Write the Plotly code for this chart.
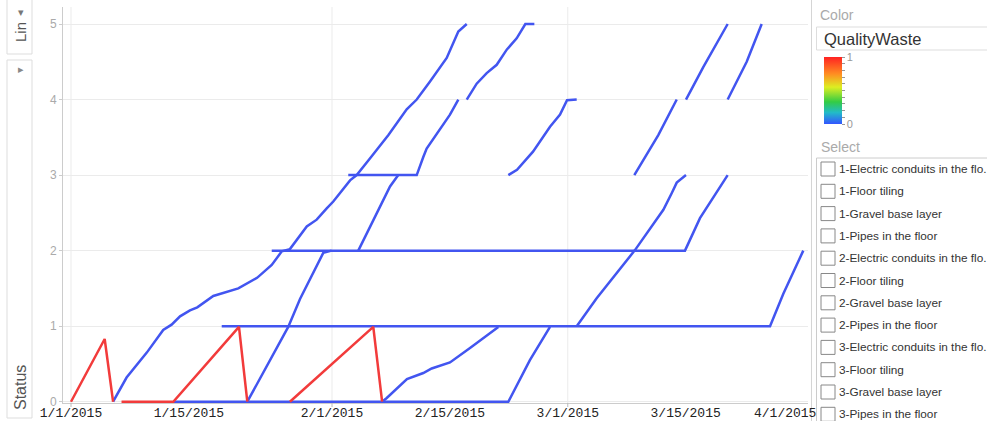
import plotly.graph_objects as go
import pandas as pd

START = pd.Timestamp("2015-01-01")

# ---- data: x = days since 1/1/2015, y = Status, waste = QualityWaste (0/1) ----
line1_days = [0, 4.0, 5.0, 6.6, 9.0, 10.95, 11.95, 12.95, 14.13, 15.0, 16.9, 18.5, 19.87, 22.1, 23.84,
              25.03, 26.0, 28.0, 29.18, 30.37, 31.15, 33.14, 33.93, 35.5, 37.7, 39.87, 41.06, 42.64,
              44.62, 46.0, 47.0]
line1_status = [0, 0.83, 0, 0.32, 0.65, 0.95, 1.02, 1.13, 1.21, 1.25, 1.40, 1.45, 1.50, 1.64, 1.81,
                1.99, 2.02, 2.32, 2.41, 2.56, 2.65, 2.93, 3.0, 3.22, 3.53, 3.87, 4.0, 4.24, 4.55, 4.90, 5.0]
line1_waste = [1, 1] + [0] * 29

line2_days = [6.0, 12.15, 19.95, 20.94, 25.8, 27.2, 28.18, 29.96, 30.95]
line2_status = [0, 0, 0.99, 0, 0.99, 1.36, 1.58, 1.97, 2.0]
line2_waste = [1, 1, 1, 0, 0, 0, 0, 0, 0]

line3_days = [12.15, 51.94, 54.5, 56.89]
line3_status = [0, 0, 0.55, 0.99]
line3_waste = [0, 0, 0, 0]

line4_days = [26.0, 35.9, 36.95, 37.5, 39.9, 41.84, 42.84, 45.01, 47.39, 50.75]
line4_status = [0, 0.99, 0, 0.05, 0.30, 0.38, 0.44, 0.52, 0.71, 0.99]
line4_waste = [1, 1, 0, 0, 0, 0, 0, 0, 0, 0]

line5_days = [17.9, 83.02, 84.6, 86.97]
line5_status = [1, 1, 1.43, 2.0]
line5_waste = [0, 0, 0, 0]

line6_days = [23.84, 72.92, 74.7, 76.48, 77.99]
line6_status = [2, 2, 2.43, 2.74, 3.0]
line6_waste = [0, 0, 0, 0, 0]

line7_days = [32.93, 41.06, 41.84, 42.24, 45.01, 46.0]
line7_status = [3, 3, 3.24, 3.35, 3.80, 4.0]
line7_waste = [0, 0, 0, 0, 0, 0]

line8_days = [34.12, 37.89, 38.87]
line8_status = [2.0, 2.85, 3.0]
line8_waste = [0, 0, 0]

line9_days = [47.0, 48.18, 49.37, 50.56, 51.75, 52.93, 53.96, 55.03]
line9_status = [4.0, 4.21, 4.35, 4.46, 4.66, 4.81, 5.0, 5.0]
line9_waste = [0] * 8

line10_days = [51.94, 52.97, 54.87, 56.89, 58.08, 58.91, 60.06]
line10_status = [3.0, 3.07, 3.31, 3.64, 3.80, 3.99, 4.0]
line10_waste = [0] * 7

line11_days = [60.06, 61.64, 62.43, 67.0, 68.37, 70.35, 71.34, 71.94, 73.04]
line11_status = [1.0, 1.25, 1.37, 2.01, 2.23, 2.54, 2.76, 2.90, 3.0]
line11_waste = [0] * 9

line12_days = [66.9, 69.75, 71.94]
line12_status = [3.0, 3.53, 4.0]
line12_waste = [0, 0, 0]

line13_days = [73.04, 75.09, 77.99]
line13_status = [4.0, 4.43, 5.0]
line13_waste = [0, 0, 0]

line14_days = [77.99, 80.25, 82.03]
line14_status = [4.0, 4.5, 5.0]
line14_waste = [0, 0, 0]

lines = [
    (line1_days, line1_status, line1_waste), (line2_days, line2_status, line2_waste),
    (line3_days, line3_status, line3_waste), (line4_days, line4_status, line4_waste),
    (line5_days, line5_status, line5_waste), (line6_days, line6_status, line6_waste),
    (line7_days, line7_status, line7_waste), (line8_days, line8_status, line8_waste),
    (line9_days, line9_status, line9_waste), (line10_days, line10_status, line10_waste),
    (line11_days, line11_status, line11_waste), (line12_days, line12_status, line12_waste),
    (line13_days, line13_status, line13_waste), (line14_days, line14_status, line14_waste),
]

x_tick_dates = ["2015-01-01", "2015-01-15", "2015-02-01", "2015-02-15", "2015-03-01", "2015-03-15"]
x_tick_text = ["1/1/2015", "1/15/2015", "2/1/2015", "2/15/2015", "3/1/2015", "3/15/2015"]
month_grid_dates = ["2015-01-01", "2015-02-01", "2015-03-01"]
x_range_days = [-0.95, 87.53]
y_ticks = [0, 1, 2, 3, 4, 5]

select_items = ["1-Electric conduits in the flo.", "1-Floor tiling", "1-Gravel base layer",
                "1-Pipes in the floor", "2-Electric conduits in the flo.", "2-Floor tiling",
                "2-Gravel base layer", "2-Pipes in the floor", "3-Electric conduits in the flo.",
                "3-Floor tiling", "3-Gravel base layer", "3-Pipes in the floor"]

BLUE = "#4255F0"
RED = "#F23B3B"
colorscale = [[0, "#3355FF"], [0.17, "#22BBC8"], [0.33, "#33CC44"], [0.55, "#DDEE22"],
              [0.75, "#FF8C22"], [1, "#FF2222"]]


def to_dates(days):
    return START + pd.to_timedelta(days, unit="D")


# ---- layout geometry (pixels) ----
W, H = 987, 421
PL, PR, PT, PB = 63, 808, 7, 403


def px_x(px):
    return (px - PL) / (PR - PL)


def px_y(py):
    return (PB - py) / (PB - PT)


fig = go.Figure()

runs = {0: [], 1: []}
for days, status, waste in lines:
    n = len(days)
    start = 0
    for i in range(1, n):
        if i == n - 1 or waste[i] != waste[start]:
            runs[waste[start]].append((days[start:i + 1], status[start:i + 1]))
            start = i

for w in (0, 1):
    for d, s in runs[w]:
        fig.add_trace(go.Scatter(
            x=to_dates(d), y=s, mode="lines",
            line=dict(color=RED if w else BLUE, width=2.5),
            showlegend=False, hoverinfo="x+y"))

# colour scale legend
fig.add_trace(go.Scatter(
    x=[None], y=[None], mode="markers", showlegend=False, hoverinfo="skip",
    marker=dict(color=[0, 1], cmin=0, cmax=1, colorscale=colorscale, showscale=True,
                colorbar=dict(x=px_x(824), xanchor="left", xpad=0, ypad=0,
                              y=px_y(90.5), yanchor="middle", lenmode="pixels", len=67,
                              thickness=18, outlinewidth=0,
                              tickvals=[i / 10 for i in range(11)],
                              ticktext=["0"] + [""] * 9 + ["1"],
                              ticks="outside", ticklen=3, tickcolor="#999",
                              tickfont=dict(family="Liberation Sans", size=11, color="#999")))))

shapes = []
annotations = []

# monthly vertical gridlines + tick marks
for d in month_grid_dates:
    shapes.append(dict(type="line", xref="x", yref="paper", x0=d, x1=d, y0=0, y1=1,
                       line=dict(color="#EBEBEB", width=1), layer="below"))
    shapes.append(dict(type="line", xref="x", yref="paper", x0=d, x1=d, y0=0, y1=px_y(PB + 4),
                       line=dict(color="#BBBBBB", width=1)))

# last date label shifted in
annotations.append(dict(text="4/1/2015", x=px_x(818), y=px_y(414), xanchor="right",
                        font=dict(family="Liberation Mono", size=13, color="#222")))

# left axis selector controls
shapes.append(dict(type="rect", xref="paper", yref="paper", x0=px_x(7), x1=px_x(32),
                   y0=px_y(-5), y1=px_y(54), line=dict(color="#DDDDDD", width=1), fillcolor="white"))
shapes.append(dict(type="rect", xref="paper", yref="paper", x0=px_x(7), x1=px_x(32),
                   y0=px_y(60), y1=px_y(418), line=dict(color="#DDDDDD", width=1), fillcolor="white"))
annotations += [
    dict(text="Lin", x=px_x(20), y=px_y(32), textangle=-90, font=dict(size=15, color="#555")),
    dict(text="▾", x=px_x(20.5), y=px_y(12), font=dict(size=11, color="#777")),
    dict(text="▸", x=px_x(20.5), y=px_y(69), font=dict(size=11, color="#888")),
    dict(text="Status", x=px_x(20), y=px_y(388), textangle=-90, font=dict(size=16, color="#555")),
]

# right panel
shapes.append(dict(type="line", xref="paper", yref="paper", x0=px_x(811.5), x1=px_x(811.5),
                   y0=px_y(0), y1=px_y(421), line=dict(color="#D5D5D5", width=1)))
annotations.append(dict(text="Color", x=px_x(818), y=px_y(15), xanchor="left",
                        font=dict(size=14, color="#AAAAAA")))
shapes.append(dict(type="rect", xref="paper", yref="paper", x0=px_x(816.5), x1=px_x(1000),
                   y0=px_y(27), y1=px_y(50), line=dict(color="#DDDDDD", width=1), fillcolor="white"))
annotations.append(dict(text="QualityWaste", x=px_x(822), y=px_y(39), xanchor="left",
                        font=dict(size=16.5, color="#333")))
annotations.append(dict(text="Select", x=px_x(819), y=px_y(147), xanchor="left",
                        font=dict(size=14, color="#AAAAAA")))
shapes.append(dict(type="rect", xref="paper", yref="paper", x0=px_x(816.5), x1=px_x(1000),
                   y0=px_y(158), y1=px_y(440), line=dict(color="#CCCCCC", width=1), fillcolor="white",
                   layer="below"))
for i, item in enumerate(select_items):
    cy = 169 + 22.3 * i
    shapes.append(dict(type="rect", xref="paper", yref="paper", x0=px_x(821), x1=px_x(835),
                       y0=px_y(cy - 7), y1=px_y(cy + 7), line=dict(color="#888", width=1),
                       fillcolor="white"))
    annotations.append(dict(text=item, x=px_x(837), y=px_y(cy), xanchor="left",
                            font=dict(size=11.8, color="#333")))

for a in annotations:
    a.setdefault("xref", "paper")
    a.setdefault("yref", "paper")
    a.setdefault("showarrow", False)
    a.setdefault("xanchor", "center")
    a.setdefault("yanchor", "middle")
    a["font"].setdefault("family", "Liberation Sans")

fig.update_layout(
    width=W, height=H, template="none",
    margin=dict(l=PL, r=W - PR, t=PT, b=H - PB, pad=0),
    paper_bgcolor="white", plot_bgcolor="white", showlegend=False,
    xaxis=dict(type="date", range=list(to_dates(x_range_days)), tickvals=x_tick_dates,
               ticktext=x_tick_text, showgrid=False, zeroline=False, ticks="",
               showline=True, linecolor="#CCCCCC", linewidth=1, automargin=False,
               ticklabelstandoff=-3,
               tickfont=dict(family="Liberation Mono", size=13, color="#222")),
    yaxis=dict(range=[-0.017, 5.225], tickvals=y_ticks, showgrid=True, gridcolor="#EBEBEB",
               zeroline=False, ticks="outside", ticklen=3, tickcolor="#CCCCCC",
               showline=True, linecolor="#CCCCCC", linewidth=1, automargin=False,
               tickfont=dict(family="Liberation Sans", size=12, color="#AAAAAA")),
    shapes=shapes, annotations=annotations,
)

fig.write_html("out.html", config={"displayModeBar": False},
               post_script="document.body.style.margin='0';document.body.style.overflow='hidden';")
